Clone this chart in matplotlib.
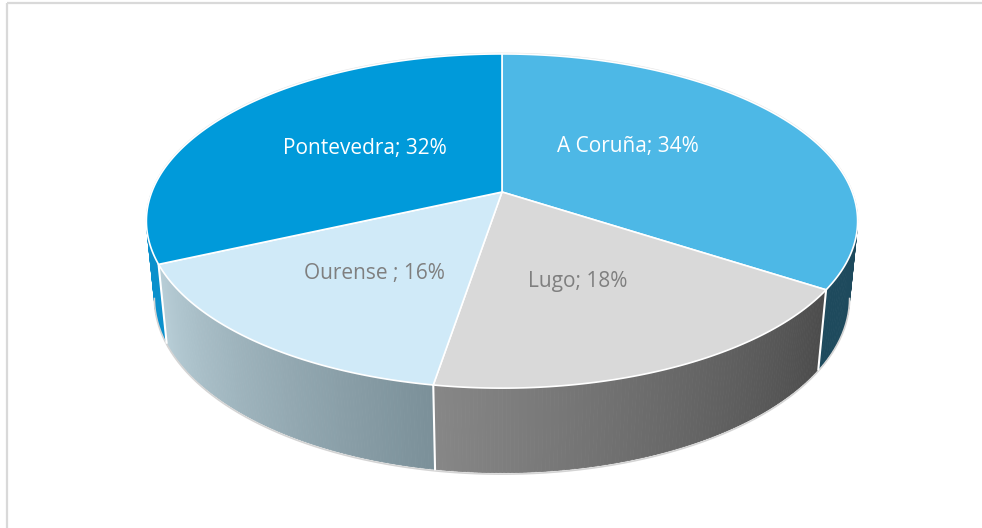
import numpy as np
import matplotlib.pyplot as plt
from matplotlib.patches import Polygon
from matplotlib.colors import to_rgb

# dados (percentagem por provincia)
provincias = ["A Coruña", "Lugo", "Ourense ", "Pontevedra"]
porcentajes = [34.2, 18.4, 15.6, 31.8]

# estilos
cor_topo = ["#4db8e6", "#d9d9d9", "#d0eaf8", "#009ada"]
cor_lado_ini = ["#1e4a5d", "#4b4b4b", "#7b9099", "#0a90cc"]
cor_lado_fim = ["#1e4a5d", "#878787", "#b9cfd8", "#0a90cc"]
cor_texto = ["white", "#7f7f7f", "#7f7f7f", "white"]
pos_rotulo = [(628, 152), (578, 287), (374, 279), (365, 154)]

# camara / perspectiva (coordenadas em pixels)
CX, CY = 502, 192
ESCALA = 1786
DIST = 5.10
PHI = np.arcsin(0.4627)
ESPESSURA = 0.245


def projetar(theta, altura):
    X = np.sin(theta)
    Z = np.cos(theta)
    cima = altura * np.cos(PHI) + Z * np.sin(PHI)
    prof = DIST + Z * np.cos(PHI) - altura * np.sin(PHI)
    return CX + ESCALA * X / prof, CY - ESCALA * cima / prof


def misturar(c1, c2, f):
    a, b = np.array(to_rgb(c1)), np.array(to_rgb(c2))
    return tuple(a + (b - a) * f)


fig = plt.figure(figsize=(9.82, 5.28), dpi=100)
ax = fig.add_axes([0, 0, 1, 1])
ax.set_xlim(0, 982)
ax.set_ylim(528, 0)
ax.axis("off")

# moldura
ax.plot([7, 982], [3, 3], color="#d9d9d9", lw=1.6, solid_capstyle="butt")
ax.plot([7, 7], [3, 528], color="#d9d9d9", lw=1.6, solid_capstyle="butt")

total = sum(porcentajes)
limites = np.concatenate([[0], np.cumsum(porcentajes)]) / total * 2 * np.pi

# paredes laterais (pintor: do fundo para a frente)
quads = []
for i in range(len(porcentajes)):
    t0, t1 = limites[i], limites[i + 1]
    n = 120
    ts = np.linspace(t0, t1, n + 1)
    for k in range(n):
        a, b = ts[k], ts[k + 1]
        xa, ya = projetar(a, 0)
        xb, yb = projetar(b, 0)
        xa2, ya2 = projetar(a, -ESPESSURA)
        xb2, yb2 = projetar(b, -ESPESSURA)
        f = (0.5 * (a + b) - t0) / (t1 - t0)
        cor = misturar(cor_lado_ini[i], cor_lado_fim[i], f)
        quads.append((np.cos(0.5 * (a + b)),
                      [(xa, ya), (xb, yb), (xb2, yb2), (xa2, ya2)], cor))

quads.sort(key=lambda q: -q[0])
for _, pts, cor in quads:
    ax.add_patch(Polygon(pts, closed=True, facecolor=cor, edgecolor=cor,
                         lw=0.6, zorder=2))

# contorno inferior visivel
ts = np.linspace(np.radians(100), np.radians(260), 200)
bx, by = projetar(ts, -ESPESSURA)
ax.plot(bx, by + 1.5, color="#d4d4d4", lw=1.2, zorder=3)

# linhas verticais nas fronteiras da frente
for t in limites[1:-1]:
    if np.radians(100) < t < np.radians(260):
        x1, y1 = projetar(t, 0)
        x2, y2 = projetar(t, -ESPESSURA)
        ax.plot([x1, x2], [y1, y2], color="white", lw=1.5, zorder=4)

# topo
for i in range(len(porcentajes)):
    ts = np.linspace(limites[i], limites[i + 1], 200)
    px, py = projetar(ts, 0)
    pts = [(CX, CY)] + list(zip(px, py))
    ax.add_patch(Polygon(pts, closed=True, facecolor=cor_topo[i],
                         edgecolor="white", lw=1.2, zorder=5))

# contorno traseiro
ts = np.linspace(np.radians(-100), np.radians(100), 200)
rx, ry = projetar(ts, 0)
ax.plot(rx, ry - 0.8, color="#e4e4e4", lw=0.8, zorder=4)

# rotulos
for i in range(len(porcentajes)):
    pct = round(porcentajes[i] / total * 100)
    x, y = pos_rotulo[i]
    ax.text(x, y, f"{provincias[i]}; {pct}%", ha="center", va="baseline",
            fontsize=15, family="Open Sans", color=cor_texto[i], zorder=6)

fig.savefig("out.png", dpi=100)
